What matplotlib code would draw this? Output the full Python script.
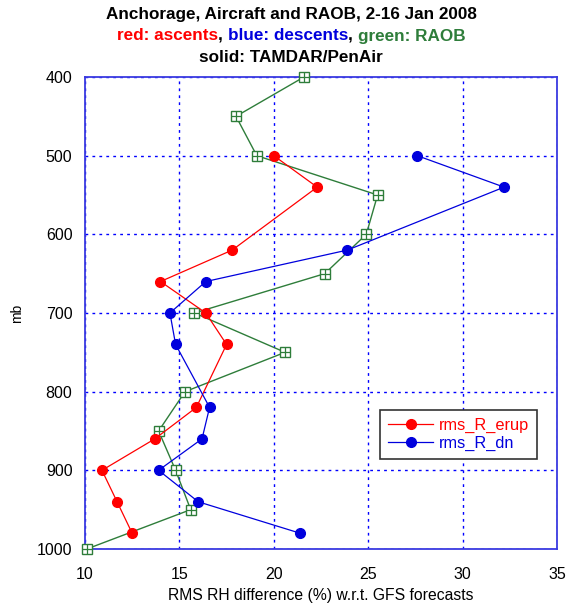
import matplotlib
matplotlib.use("Agg")
import matplotlib.pyplot as plt

plt.rcParams['font.family'] = ['Liberation Sans', 'DejaVu Sans']

# pressure levels (mb) and RMS RH difference (%) vs GFS forecasts
p_up = [500, 540, 620, 660, 700, 740, 820, 860, 900, 940, 980]
rms_up = [20.0, 22.3, 17.8, 14.0, 16.4, 17.5, 15.9, 13.7, 10.9, 11.7, 12.5]

p_dn = [500, 540, 620, 660, 700, 740, 820, 860, 900, 940, 980]
rms_dn = [27.6, 32.2, 23.9, 16.4, 14.5, 14.8, 16.6, 16.2, 13.9, 16.0, 21.4]

p_raob = [400, 450, 500, 550, 600, 650, 700, 750, 800, 850, 900, 950, 1000]
rms_raob = [21.6, 18.0, 19.1, 25.5, 24.9, 22.7, 15.8, 20.6, 15.3, 13.9, 14.8, 15.6, 10.1]

xticks = [10, 15, 20, 25, 30, 35]
yticks = [400, 500, 600, 700, 800, 900, 1000]

RED = '#ff0000'
BLUE = '#0000dd'
GREEN = '#2e7d3a'
GRID = '#0000ff'
FRAME = '#3a3ae0'

fig = plt.figure(figsize=(5.73, 6.04), dpi=100)
ax = fig.add_axes([0.1483, 0.0911, 0.8237, 0.7814])

# RAOB: open square with a cross inside
ax.plot(rms_raob, p_raob, '-', color=GREEN, lw=1.0, zorder=3, clip_on=False)
ax.plot(rms_raob, p_raob, 's', ms=6.5, mfc='white', mec=GREEN, mew=1.0, zorder=4, clip_on=False)
ax.plot(rms_raob, p_raob, '+', ms=6.5, mec=GREEN, mew=0.9, zorder=5, clip_on=False)

ax.plot(rms_up, p_up, '-o', color=RED, lw=0.9, ms=7, mec=RED, label='rms_R_erup', zorder=6)
ax.plot(rms_dn, p_dn, '-o', color=BLUE, lw=0.9, ms=7, mec=BLUE, label='rms_R_dn', zorder=6)

ax.set_xlim(10, 35)
ax.set_ylim(1000, 400)
ax.set_xticks(xticks)
ax.set_yticks(yticks)
ax.tick_params(length=0, labelsize=11.5)
ax.tick_params(axis='x', pad=13)
ax.tick_params(axis='y', pad=9)
ax.grid(True, color=GRID, linestyle=(0, (2, 3)), linewidth=1.0)
for s in ax.spines.values():
    s.set_color(FRAME)
    s.set_linewidth(1.3)

ax.set_xlabel('RMS RH difference (%) w.r.t. GFS forecasts', fontsize=11.3, labelpad=4)
ax.set_ylabel('mb', fontsize=10, labelpad=9)

leg = ax.legend(loc='center left', bbox_to_anchor=(0.625, 0.243), fontsize=11.8,
                fancybox=False, framealpha=1, edgecolor='#333333',
                handlelength=2.75, handletextpad=0.35, borderpad=0.5,
                labelspacing=0.15, borderaxespad=0)
leg.get_frame().set_linewidth(1.2)
for txt, col in zip(leg.get_texts(), [RED, BLUE]):
    txt.set_color(col)

# three-line title, the middle line built from coloured pieces
cx = 291 / 573.0
fs_title = 12.3
fig.text(cx, 1 - 15 / 604.0, 'Anchorage, Aircraft and RAOB, 2-16 Jan 2008',
         ha='center', va='center', fontsize=fs_title, fontweight='bold')
fig.text(cx, 1 - 58 / 604.0, 'solid: TAMDAR/PenAir',
         ha='center', va='center', fontsize=fs_title, fontweight='bold')

pieces = [('red: ascents', RED), (', ', 'black'), ('blue: descents', BLUE),
          (', ', 'black'), ('green: RAOB', GREEN)]
renderer = fig.canvas.get_renderer()
y2 = 1 - 36 / 604.0
objs = []
for s, c in pieces:
    t = fig.text(0, y2, s, ha='left', va='center', fontsize=fs_title, fontweight='bold', color=c)
    objs.append(t)
widths = [t.get_window_extent(renderer).width / fig.bbox.width for t in objs]
x = cx - sum(widths) / 2
for t, w in zip(objs, widths):
    t.set_x(x)
    x += w

fig.savefig('out.png', dpi=100)
